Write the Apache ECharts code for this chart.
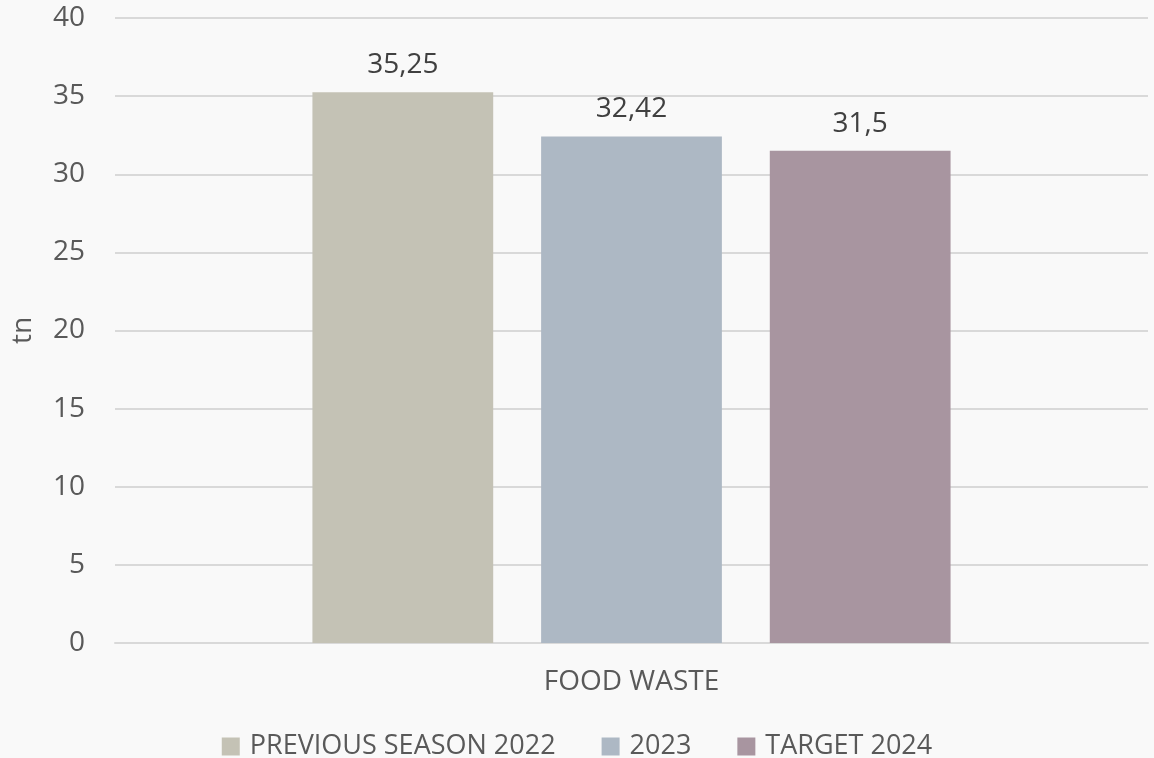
<!DOCTYPE html>
<html>
<head>
<meta charset="utf-8">
<script src="https://cdn.jsdelivr.net/npm/echarts@6/dist/echarts.min.js"></script>
<style>
  html, body { margin: 0; padding: 0; background: #f9f9f9; }
  #chart { width: 1154px; height: 758px; }
</style>
</head>
<body>
<div id="chart"></div>
<script>
const categories = ["FOOD WASTE"];
const seriesNames = ["PREVIOUS SEASON 2022", "2023", "TARGET 2024"];
const seriesValues = [[35.25], [32.42], [31.5]];
const colors = ["#c4c2b5", "#adb8c4", "#a895a0"];

const font = "'Open Sans', 'Noto Sans', sans-serif";

const series = seriesNames.map((name, i) => ({
  name: name,
  type: "bar",
  data: seriesValues[i],
  barWidth: "17.5%",
  barGap: "26.5%",
  itemStyle: { color: colors[i] },
  label: {
    show: true,
    position: "top",
    distance: 13,
    color: "#404040",
    fontSize: 28,
    fontFamily: font,
    formatter: (p) => String(p.value).replace(".", ",")
  }
}));

const chart = echarts.init(document.getElementById("chart"));
chart.setOption({
  backgroundColor: "#f9f9f9",
  animation: false,
  color: colors,
  grid: { left: 115, right: 6, top: 18, bottom: 115, containLabel: false },
  legend: {
    data: seriesNames,
    bottom: -7,
    left: "center",
    itemWidth: 18,
    itemHeight: 18,
    itemGap: 46,
    icon: "rect",
    textStyle: { color: "#595959", fontSize: 27, fontFamily: font, padding: [0, 0, 0, 5] }
  },
  xAxis: {
    type: "category",
    data: categories,
    axisLine: { lineStyle: { color: "#d9d9d9", width: 2 } },
    axisTick: { show: false },
    axisLabel: { color: "#595959", fontSize: 28, fontFamily: font, margin: 25 }
  },
  yAxis: {
    type: "value",
    min: 0,
    max: 40,
    interval: 5,
    name: "tn",
    nameLocation: "middle",
    nameGap: 78,
    nameRotate: 90,
    nameTextStyle: { color: "#595959", fontSize: 28, fontFamily: font },
    axisLine: { show: false },
    axisTick: { show: false },
    splitLine: { lineStyle: { color: "#d9d9d9", width: 2 } },
    axisLabel: { color: "#595959", fontSize: 28, fontFamily: font, margin: 30 }
  },
  series: series
});
</script>
</body>
</html>
